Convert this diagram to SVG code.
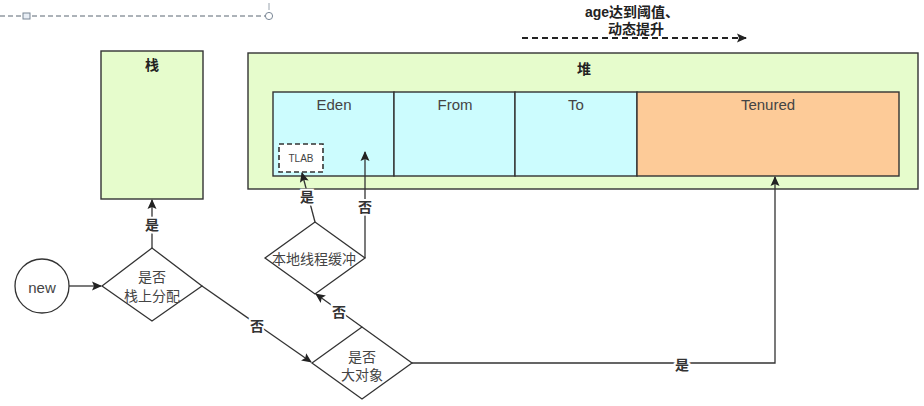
<svg xmlns="http://www.w3.org/2000/svg" width="924" height="406" viewBox="0 0 924 406">
<defs>
<marker id="arr2" viewBox="0 0 10 10" refX="9" refY="5" markerWidth="10" markerHeight="10" markerUnits="userSpaceOnUse" orient="auto">
<path d="M0,0.5 L10,5 L0,9.5 L2,5 Z" fill="#222"/>
</marker>
</defs>
<style>
text{font-family:"Liberation Sans","Noto Sans CJK SC",sans-serif;text-anchor:middle;dominant-baseline:central}
.box{stroke:#333;stroke-width:1.4}
.t{font-size:14px;fill:#444}
.c{font-size:15px;fill:#444}
.b{font-size:14px;font-weight:bold;fill:#222}
.lbl{font-size:14px;font-weight:bold;fill:#333;stroke:#fff;stroke-width:4;paint-order:stroke}
.ln{fill:none;stroke:#333;stroke-width:1.3;marker-end:url(#arr2)}
.sh{fill:#fff;stroke:#333;stroke-width:1.3}
</style>
<rect width="924" height="406" fill="#fff"/>
<g id="guide">
<line x1="0" y1="16" x2="265" y2="16" stroke="#5b6673" stroke-width="1" stroke-dasharray="5,3"/>
<rect x="23" y="13" width="7" height="6" fill="#e8eef5" stroke="#7a8796" stroke-width="1"/>
<circle cx="269" cy="16" r="3.6" fill="#fff" stroke="#7a8796" stroke-width="1"/>
<line x1="269" y1="3" x2="269" y2="10" stroke="#9aa4ae" stroke-width="1"/>
</g>
<g id="stack">
<rect class="box" x="101" y="51" width="102" height="148" fill="#e6fccc"/>
<text class="b" x="152" y="65">栈</text>
</g>
<g id="heap">
<rect class="box" x="248" y="53" width="670" height="136" fill="#e6fccc"/>
<text class="b" x="584" y="69">堆</text>
</g>
<g id="eden">
<rect class="box" x="273" y="92" width="121" height="84" fill="#ccfcfe"/>
<text class="c" x="334" y="104">Eden</text>
</g>
<g id="from">
<rect class="box" x="394" y="92" width="121" height="84" fill="#ccfcfe"/>
<text class="c" x="455" y="104">From</text>
</g>
<g id="to">
<rect class="box" x="515" y="92" width="122" height="84" fill="#ccfcfe"/>
<text class="c" x="576" y="104">To</text>
</g>
<g id="tenured">
<rect class="box" x="637" y="92" width="262" height="84" fill="#fdcb98"/>
<text class="c" x="768" y="104">Tenured</text>
</g>
<g id="tlab">
<rect x="279" y="144" width="44" height="28" fill="#fff" stroke="#333" stroke-width="1.6" stroke-dasharray="5,3"/>
<text x="301" y="158" style="font-size:10px;fill:#444">TLAB</text>
</g>
<g id="new">
<circle class="sh" cx="42" cy="286" r="27"/>
<text class="c" x="42" y="287">new</text>
</g>
<g id="onstack">
<polygon class="sh" points="102,286 152,248 202,286 152,321"/>
<text class="t" x="152" y="277">是否</text>
<text class="t" x="152" y="296">栈上分配</text>
</g>
<g id="tlabq">
<polygon class="sh" points="265,258 315,222 365,258 315,294"/>
<text class="t" x="314" y="259">本地线程缓冲</text>
</g>
<g id="bigobj">
<polygon class="sh" points="312,363 362,327 412,363 362,399"/>
<text class="t" x="362" y="357">是否</text>
<text class="t" x="362" y="375">大对象</text>
</g>
<g id="promo">
<text x="632" y="12" style="font-size:14px;font-weight:bold;fill:#222">age达到阈值、</text>
<text x="636" y="29" style="font-size:14px;font-weight:bold;fill:#222">动态提升</text>
</g>
<g id="connectors">
<line x1="522" y1="38" x2="746" y2="38" stroke="#222" stroke-width="1.8" stroke-dasharray="6,4" marker-end="url(#arr2)"/>
<line class="ln" x1="69" y1="286" x2="101" y2="286"/>
<line class="ln" x1="152" y1="248" x2="152" y2="200"/>
<line class="ln" x1="202" y1="286" x2="311" y2="362"/>
<line class="ln" x1="362" y1="327" x2="316" y2="294"/>
<line class="ln" x1="315" y1="222" x2="302" y2="173"/>
<polyline class="ln" points="365,258 365,152"/>
<polyline class="ln" points="412,363 775,363 775,177"/>
<text class="lbl" x="152" y="225">是</text>
<text class="lbl" x="257" y="326">否</text>
<text class="lbl" x="339" y="312">否</text>
<text class="lbl" x="307" y="197">是</text>
<text class="lbl" x="365" y="207">否</text>
<text class="lbl" x="682" y="365">是</text>
</g>
</svg>
